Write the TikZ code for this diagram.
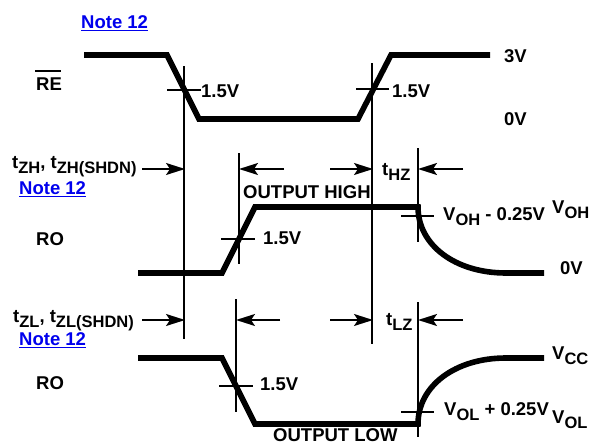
\documentclass[tikz,border=0pt]{standalone}
\usepackage{amsmath,amsfonts,amssymb}
\usepackage{fontspec}
\setmainfont{Liberation Sans}
\usetikzlibrary{arrows.meta}

\definecolor{noteblue}{rgb}{0,0,0.93}
\newcommand{\lowtxt}[2][5.5pt]{\raisebox{-#1}{\fontsize{16.5}{16.5}\selectfont #2}}

\tikzset{
  wave/.style={line width=5.6pt},
  thin line/.style={line width=1.8pt},
  label/.style={anchor=base west,inner sep=0pt,font=\fontsize{18.5}{20}\selectfont\bfseries},
  note/.style={label,text=noteblue},
  tip/.style={thin line,-{Stealth[length=19pt,width=12pt,inset=4pt]}}
}

\begin{document}
\begin{tikzpicture}[x=1pt,y=-1pt]
    \useasboundingbox (0,0) rectangle (590,442);
    % waveforms
    \coordinate (rea) at (84,55);
    \coordinate (reb) at (167,55);
    \coordinate (rec) at (199,119);
    \coordinate (red) at (358,119);
    \coordinate (ree) at (391,55);
    \coordinate (ref) at (490,55);
    \draw [wave] (rea) -- (reb) -- (rec) -- (red) -- (ree) -- (ref);
    \coordinate (hia) at (138,273);
    \coordinate (hib) at (222,273);
    \coordinate (hic) at (255,207);
    \coordinate (hid) at (418,207);
    \coordinate (hie) at (506,273);
    \coordinate (hif) at (544,273);
    \coordinate (hig) at (418,245);
    \coordinate (hih) at (455,273);
    \draw [wave] (hia) -- (hib) -- (hic) -- (hid) .. controls (hig) and (hih) .. (hie) -- (hif);
    \coordinate (loa) at (138,358);
    \coordinate (lob) at (222,358);
    \coordinate (loc) at (255,424);
    \coordinate (lod) at (418,424);
    \coordinate (loe) at (506,358);
    \coordinate (lof) at (544,358);
    \coordinate (log) at (418,386);
    \coordinate (loh) at (455,358);
    \draw [wave] (loa) -- (lob) -- (loc) -- (lod) .. controls (log) and (loh) .. (loe) -- (lof);
    % verticals
    \coordinate (va) at (184,66);
    \coordinate (vb) at (184,339);
    \coordinate (vc) at (372,63);
    \coordinate (vd) at (372,344);
    \coordinate (ve) at (239,153);
    \coordinate (vf) at (239,264);
    \coordinate (vg) at (418,148);
    \coordinate (vh) at (418,242);
    \coordinate (vi) at (236,299);
    \coordinate (vj) at (236,412);
    \coordinate (vk) at (418,302);
    \coordinate (vl) at (418,437);
    \draw [thin line] (va) -- (vb);
    \draw [thin line] (vc) -- (vd);
    \draw [thin line] (ve) -- (vf);
    \draw [thin line] (vg) -- (vh);
    \draw [thin line] (vi) -- (vj);
    \draw [thin line] (vk) -- (vl);
    % ticks
    \coordinate (ta) at (167,90);
    \coordinate (tb) at (201,90);
    \coordinate (tc) at (356,89);
    \coordinate (td) at (389,89);
    \coordinate (te) at (221,239);
    \coordinate (tf) at (255,239);
    \coordinate (tg) at (401,216);
    \coordinate (th) at (434,216);
    \coordinate (ti) at (219,386);
    \coordinate (tj) at (253,386);
    \coordinate (tk) at (401,412);
    \coordinate (tl) at (434,412);
    \draw [thin line] (ta) -- (tb);
    \draw [thin line] (tc) -- (td);
    \draw [thin line] (te) -- (tf);
    \draw [thin line] (tg) -- (th);
    \draw [thin line] (ti) -- (tj);
    \draw [thin line] (tk) -- (tl);
    % timing arrows
    \coordinate (aa) at (142,169);
    \coordinate (ab) at (185,169);
    \coordinate (ac) at (284,169);
    \coordinate (ad) at (239,169);
    \coordinate (ae) at (330,169);
    \coordinate (af) at (373,169);
    \coordinate (ag) at (463,169);
    \coordinate (ah) at (418,169);
    \coordinate (ai) at (142,320);
    \coordinate (aj) at (185,320);
    \coordinate (ak) at (280,320);
    \coordinate (al) at (236,320);
    \coordinate (am) at (330,320);
    \coordinate (an) at (373,320);
    \coordinate (ao) at (463,320);
    \coordinate (ap) at (418,320);
    \draw [tip] (aa) -- (ab);
    \draw [tip] (ac) -- (ad);
    \draw [tip] (ae) -- (af);
    \draw [tip] (ag) -- (ah);
    \draw [tip] (ai) -- (aj);
    \draw [tip] (ak) -- (al);
    \draw [tip] (am) -- (an);
    \draw [tip] (ao) -- (ap);
    % labels
    \node [note] (notea) at (81,28) {\underline{Note 12}};
    \node [note] (noteb) at (19,194) {\underline{Note 12}};
    \node [note] (notec) at (19,345) {\underline{Note 12}};
    \node [label] (re) at (36,90) {RE};
    \coordinate (bara) at (35,71);
    \coordinate (barb) at (61,71);
    \draw [thin line] (bara) -- (barb);
    \node [label] (ra) at (201,97) {1.5V};
    \node [label] (rb) at (392,97) {1.5V};
    \node [label] (rc) at (263,244) {1.5V};
    \node [label] (rd) at (260,390) {1.5V};
    \node [label] (top) at (504,62) {3V};
    \node [label] (bot) at (504,125) {0V};
    \node [label] (zero) at (560,274) {0V};
    \node [label] (roa) at (36,245) {RO};
    \node [label] (rob) at (36,389) {RO};
    \node [label] (high) at (243,198) {OUTPUT HIGH};
    \node [label] (low) at (273,441) {OUTPUT LOW};
    \node [label] (tzh) at (12,168) {t\lowtxt{ZH}, t\lowtxt{ZH(SHDN)}};
    \node [label] (tzl) at (13,322) {t\lowtxt{ZL}, t\lowtxt{ZL(SHDN)}};
    \node [label] (thz) at (382,175) {t\lowtxt{HZ}};
    \node [label] (tlz) at (386,325) {t\lowtxt{LZ}};
    \node [label] (voha) at (443,220) {V\lowtxt{OH} - 0.25V};
    \node [label] (vohb) at (552,213) {V\lowtxt{OH}};
    \node [label] (vola) at (444,415) {V\lowtxt{OL} + 0.25V};
    \node [label] (volb) at (552,423) {V\lowtxt{OL}};
    \node [label] (vcc) at (552,359) {V\lowtxt{CC}};
\end{tikzpicture}
\end{document}
